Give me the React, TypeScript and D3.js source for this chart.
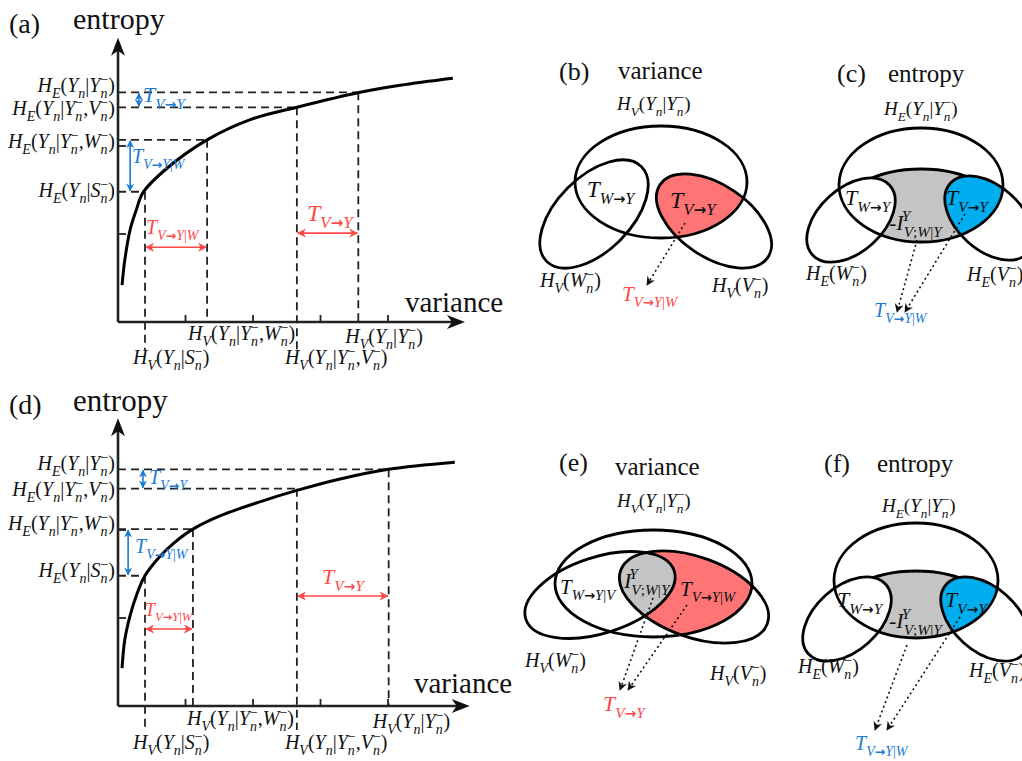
import React from 'react';
import * as d3 from 'd3';

const FONT = "'Liberation Serif','Times New Roman',serif";
const INK = '#111';
const BLUE = '#1b7bd4';
const RED = '#ff4848';
const RED_FILL = '#ff7474';
const BLUE_FILL = '#00aeef';
const GRAY_FILL = '#c4c4c4';

// ---------- data: panel (a) (variance units, entropy units) ----------
const curveAX = [0.06, 0.1, 0.18, 0.27, 0.37, 0.73, 1.32, 1.96, 2.65, 3.59, 4.18, 4.96];
const curveAY = [0.42, 0.7, 1.05, 1.27, 1.47, 1.75, 2.07, 2.3, 2.44, 2.61, 2.69, 2.77];
const markersA = [0.4, 1.32, 2.65, 3.56];
const levelsA = [1.48, 2.07, 2.44, 2.61];

// ---------- data: panel (d) ----------
const curveDX = [0.06, 0.1, 0.18, 0.27, 0.39, 0.62, 0.84, 1.11, 1.51, 2.1, 2.65, 3.29, 4.01, 4.99];
const curveDY = [0.43, 0.75, 1.03, 1.25, 1.47, 1.7, 1.86, 2.01, 2.16, 2.32, 2.45, 2.58, 2.69, 2.77];
const markersD = [0.4, 1.11, 2.65, 4.01];
const levelsD = [1.48, 2.01, 2.47, 2.69];

const xTicks = [1, 2, 3, 4];
const yTicks = [1, 2];

const levelLabels = [
  'H_{E}(Y_{n}|S_{n}^{−})',
  'H_{E}(Y_{n}|Y_{n}^{−},W_{n}^{−})',
  'H_{E}(Y_{n}|Y_{n}^{−},V_{n}^{−})',
  'H_{E}(Y_{n}|Y_{n}^{−})',
];
const markerLabels = [
  'H_{V}(Y_{n}|S_{n}^{−})',
  'H_{V}(Y_{n}|Y_{n}^{−},W_{n}^{−})',
  'H_{V}(Y_{n}|Y_{n}^{−},V_{n}^{−})',
  'H_{V}(Y_{n}|Y_{n}^{−})',
];

// ---------- math text ----------
type Tok = { base?: string; sub?: string; sup?: string };
function parse(s: string): Tok[] {
  const out: Tok[] = [];
  let i = 0;
  let buf = '';
  const readGroup = () => {
    const j = s.indexOf('}', i);
    const g = s.slice(i + 1, j);
    i = j + 1;
    return g;
  };
  while (i < s.length) {
    const c = s[i];
    if (c === '_' || c === '^') {
      if (buf) { out.push({ base: buf }); buf = ''; }
      const t: Tok = {};
      while (i < s.length && (s[i] === '_' || s[i] === '^')) {
        const k = s[i];
        i++;
        const g = readGroup();
        if (k === '_') t.sub = g; else t.sup = g;
      }
      out.push(t);
    } else { buf += c; i++; }
  }
  if (buf) out.push({ base: buf });
  return out;
}
const CW: Record<string, number> = { W: 0.83, V: 0.61, Y: 0.56, '→': 0.75, '|': 0.28, ';': 0.33, n: 0.5, E: 0.61, '−': 0.56, S: 0.5, H: 0.72, T: 0.56, I: 0.33, '(': 0.33, ')': 0.33, ',': 0.25 };
const textW = (str: string, fs: number) => [...str].reduce((a, c) => a + (CW[c] ?? 0.5) * fs, 0);

function M({ x, y, s, size = 20, fill = INK, anchor = 'start' }: { x: number; y: number; s: string; size?: number; fill?: string; anchor?: string }) {
  const toks = parse(s);
  const spans: any[] = [];
  let cur = 0;
  let pendingDx = 0;
  let k = 0;
  const emit = (text: string, fs: number, cls: string, shift: number) => {
    const isArrow = cls === 'b';
    spans.push(
      <tspan key={k++} fontSize={isArrow ? fs * 0.9 : fs} fontStyle={cls === 'i' ? 'italic' : 'normal'}
        fontWeight={isArrow ? 'bold' : 'normal'} fontFamily={isArrow ? "'DejaVu Sans',sans-serif" : undefined}
        dy={shift - cur} dx={pendingDx || undefined}>{text}</tspan>
    );
    cur = shift;
    pendingDx = 0;
  };
  const runs = (str: string, fs: number, shift: number) => {
    let run = '';
    let cls = '';
    const classOf = (c: string) => (/[A-Za-z]/.test(c) ? 'i' : c === '→' ? 'b' : 'n');
    for (const c of [...str]) {
      const cc = classOf(c);
      if (run && cc !== cls) { emit(run, fs, cls, shift); run = ''; }
      cls = cc;
      run += c;
    }
    if (run) emit(run, fs, cls, shift);
  };
  for (const t of toks) {
    if (t.base !== undefined) runs(t.base, size, 0);
    else {
      const ss = size * 0.7;
      if (t.sub !== undefined && t.sup !== undefined) {
        runs(t.sub, ss, size * 0.3);
        const wsub = textW(t.sub, ss);
        const wsup = textW(t.sup, ss);
        pendingDx = -wsub;
        runs(t.sup, ss, -size * 0.42);
        pendingDx = Math.max(0, wsub - wsup);
      } else if (t.sub !== undefined) runs(t.sub, ss, size * 0.3);
      else runs(t.sup as string, ss, -size * 0.42);
    }
  }
  return (
    <text x={x} y={y} fontFamily={FONT} fontSize={size} fill={fill} textAnchor={anchor as any}>{spans}</text>
  );
}

function Plain({ x, y, t, size }: { x: number; y: number; t: string; size: number }) {
  return <text x={x} y={y} fontFamily={FONT} fontSize={size} fill={INK}>{t}</text>;
}

// ---------- left panels ----------
type LeftProps = {
  ox: number; oy: number; xEnd: number; yTop: number;
  cx: number[]; cy: number[]; markers: number[]; levels: number[];
  markerBottoms: (number | null)[];
  labelDx: number[]; labelY: number[]; levelLabelY: number[];
  blueX: [number, number]; redY: [number, number];
  tLabels: { s: string; x: number; y: number; size: number; fill: string }[];
};

function LeftPanel(p: LeftProps) {
  const xs = d3.scaleLinear().domain([0, 1]).range([p.ox, p.ox + 67.5]);
  const ys = d3.scaleLinear().domain([0, 1]).range([p.oy, p.oy - 88]);
  const line = d3.line<number>().x((_, i) => xs(p.cx[i])).y((_, i) => ys(p.cy[i])).curve(d3.curveCatmullRom.alpha(0.5));
  const ax = xs(p.xEnd);
  const ay = ys(p.yTop);
  const dash = '8 5';
  return (
    <g>
      {p.levels.map((lv, i) => (
        <line key={'h' + i} x1={p.ox} x2={xs(p.markers[i])} y1={ys(lv)} y2={ys(lv)} stroke="#222" strokeWidth={1.8} strokeDasharray={dash} />
      ))}
      {p.markers.map((m, i) => (
        <line key={'v' + i} x1={xs(m)} x2={xs(m)} y1={ys(p.levels[i])} y2={p.markerBottoms[i] ?? p.oy} stroke="#222" strokeWidth={1.8} strokeDasharray={dash} />
      ))}
      <line x1={p.ox} x2={p.ox} y1={p.oy} y2={ay + 10} stroke="#222" strokeWidth={2.6} />
      <line x1={p.ox} x2={ax - 10} y1={p.oy} y2={p.oy} stroke="#222" strokeWidth={2.6} />
      <path d={`M${p.ox},${ay} L${p.ox - 7},${ay + 18} L${p.ox},${ay + 13} L${p.ox + 7},${ay + 18} Z`} fill="#111" />
      <path d={`M${ax},${p.oy} L${ax - 18},${p.oy - 7} L${ax - 13},${p.oy} L${ax - 18},${p.oy + 7} Z`} fill="#111" />
      {xTicks.map((t) => (
        <line key={'xt' + t} x1={xs(t)} x2={xs(t)} y1={p.oy} y2={p.oy - 7} stroke="#222" strokeWidth={1.8} />
      ))}
      {yTicks.map((t) => (
        <line key={'yt' + t} x1={p.ox} x2={p.ox + 8} y1={ys(t)} y2={ys(t)} stroke="#222" strokeWidth={1.8} />
      ))}
      <path d={line(p.cx) || ''} fill="none" stroke="#000" strokeWidth={3} />
      <line x1={xs(p.blueX[0])} x2={xs(p.blueX[0])} y1={ys(p.levels[3]) + 1} y2={ys(p.levels[2]) - 1} stroke={BLUE} strokeWidth={1.6} markerStart="url(#mB)" markerEnd="url(#mB)" />
      <line x1={xs(p.blueX[1])} x2={xs(p.blueX[1])} y1={ys(p.levels[1]) + 1} y2={ys(p.levels[0]) - 1} stroke={BLUE} strokeWidth={1.6} markerStart="url(#mB)" markerEnd="url(#mB)" />
      <line x1={xs(p.markers[0]) + 1} x2={xs(p.markers[1]) - 1} y1={ys(p.redY[0])} y2={ys(p.redY[0])} stroke={RED} strokeWidth={1.6} markerStart="url(#mR)" markerEnd="url(#mR)" />
      <line x1={xs(p.markers[2]) + 1} x2={xs(p.markers[3]) - 1} y1={ys(p.redY[1])} y2={ys(p.redY[1])} stroke={RED} strokeWidth={1.6} markerStart="url(#mR)" markerEnd="url(#mR)" />
      {levelLabels.map((s, i) => (
        <M key={'ll' + i} x={p.ox - 3} y={p.levelLabelY[i]} s={s} size={20} anchor="end" />
      ))}
      {markerLabels.map((s, i) => (
        <M key={'ml' + i} x={xs(p.markers[i]) + p.labelDx[i]} y={p.labelY[i]} s={s} size={20} />
      ))}
      {p.tLabels.map((t, i) => (
        <M key={'tl' + i} x={t.x} y={t.y} s={t.s} size={t.size} fill={t.fill} />
      ))}
    </g>
  );
}

// ---------- venn helpers ----------
type Ell = { cx: number; cy: number; rx: number; ry: number; rot: number };
const E = (e: Ell, props: any = {}) => (
  <ellipse cx={e.cx} cy={e.cy} rx={e.rx} ry={e.ry} transform={`rotate(${e.rot} ${e.cx} ${e.cy})`} {...props} />
);
const SW = 2.8;

function Dotted({ x1, y1, x2, y2 }: { x1: number; y1: number; x2: number; y2: number }) {
  return <line x1={x1} y1={y1} x2={x2} y2={y2} stroke="#111" strokeWidth={1.6} strokeDasharray="2 3" markerEnd="url(#mK)" />;
}

function VennVarB() {
  const big: Ell = { cx: 661, cy: 182, rx: 86, ry: 56, rot: 0 };
  const left: Ell = { cx: 594, cy: 214, rx: 67, ry: 37, rot: -45 };
  const right: Ell = { cx: 714, cy: 221, rx: 65, ry: 36, rot: 34 };
  return (
    <g>
      <defs>
        <clipPath id="b-big">{E(big)}</clipPath>
      </defs>
      <g clipPath="url(#b-big)">{E(right, { fill: RED_FILL })}</g>
      {E(big, { fill: 'none', stroke: '#000', strokeWidth: SW })}
      {E(left, { fill: 'none', stroke: '#000', strokeWidth: SW })}
      {E(right, { fill: 'none', stroke: '#000', strokeWidth: SW })}
      <Dotted x1={685} y1={223} x2={647} y2={285} />
      <Plain x={559} y={80} t="(b)" size={26} />
      <Plain x={618} y={79} t="variance" size={25} />
      <M x={617} y={110} s="H_{V}(Y_{n}|Y_{n}^{−})" size={19} />
      <M x={587} y={197} s="T_{W→Y}" size={23} />
      <M x={670} y={208} s="T_{V→Y}" size={24} />
      <M x={540} y={287} s="H_{V}(W_{n}^{−})" size={20} />
      <M x={712} y={292} s="H_{V}(V_{n}^{−})" size={20} />
      <M x={622} y={301} s="T_{V→Y|W}" size={21} fill={RED} />
    </g>
  );
}

function VennEntropy({ id, big, left, right, gray, texts, dots }: { id: string; big: Ell; left: Ell; right: Ell; gray: Ell; texts: any; dots: number[][] }) {
  return (
    <g>
      <defs>
        <clipPath id={id + '-big'}>{E(big)}</clipPath>
        <mask id={id + '-m'} maskUnits="userSpaceOnUse" x={0} y={0} width={1022} height={761}>
          <rect x={0} y={0} width={1022} height={761} fill="#fff" />
          {E(left, { fill: '#000' })}
          {E(right, { fill: '#000' })}
        </mask>
      </defs>
      <g clipPath={`url(#${id}-big)`}>
        <g mask={`url(#${id}-m)`}>{E(gray, { fill: GRAY_FILL, stroke: '#000', strokeWidth: SW })}</g>
        {E(right, { fill: BLUE_FILL })}
      </g>
      {E(big, { fill: 'none', stroke: '#000', strokeWidth: SW })}
      {E(left, { fill: 'none', stroke: '#000', strokeWidth: SW })}
      {E(right, { fill: 'none', stroke: '#000', strokeWidth: SW })}
      {dots.map((d, i) => <Dotted key={i} x1={d[0]} y1={d[1]} x2={d[2]} y2={d[3]} />)}
      {texts}
    </g>
  );
}

function VennVarE() {
  const big: Ell = { cx: 653.5, cy: 583.5, rx: 98.5, ry: 53.5, rot: 0 };
  const left: Ell = { cx: 600, cy: 595, rx: 78, ry: 38, rot: -18 };
  const right: Ell = { cx: 694, cy: 597, rx: 78, ry: 40, rot: 20 };
  return (
    <g>
      <defs>
        <clipPath id="e-big">{E(big)}</clipPath>
        <clipPath id="e-left">{E(left)}</clipPath>
        <mask id="e-m" maskUnits="userSpaceOnUse" x={0} y={0} width={1022} height={761}>
          <rect x={0} y={0} width={1022} height={761} fill="#fff" />
          {E(left, { fill: '#000' })}
        </mask>
      </defs>
      <g clipPath="url(#e-big)">
        <g mask="url(#e-m)">{E(right, { fill: RED_FILL })}</g>
        <g clipPath="url(#e-left)">{E(right, { fill: GRAY_FILL })}</g>
      </g>
      {E(big, { fill: 'none', stroke: '#000', strokeWidth: SW })}
      {E(left, { fill: 'none', stroke: '#000', strokeWidth: SW })}
      {E(right, { fill: 'none', stroke: '#000', strokeWidth: SW })}
      <Dotted x1={653} y1={598} x2={620} y2={690} />
      <Dotted x1={687} y1={605} x2={628} y2={690} />
      <Plain x={559} y={471} t="(e)" size={26} />
      <Plain x={615} y={475} t="variance" size={25} />
      <M x={617} y={507} s="H_{V}(Y_{n}|Y_{n}^{−})" size={19} />
      <M x={560} y={594} s="T_{W→Y|V}" size={21} />
      <M x={624} y={588} s="I^{Y}_{V;W|Y}" size={22} />
      <M x={680} y={596} s="T_{V→Y|W}" size={21} />
      <M x={525} y={667} s="H_{V}(W_{n}^{−})" size={20} />
      <M x={710} y={680} s="H_{V}(V_{n}^{−})" size={20} />
      <M x={603} y={711} s="T_{V→Y}" size={22} fill={RED} />
    </g>
  );
}

export default function App() {
  return (
    <svg width={1022} height={761} viewBox="0 0 1022 761" style={{ position: 'absolute', left: 0, top: 0, background: '#fff' }}>
      <defs>
        <marker id="mB" viewBox="0 0 10 10" refX={9} refY={5} markerWidth={8} markerHeight={8} markerUnits="userSpaceOnUse" orient="auto-start-reverse">
          <path d="M0,0 L10,5 L0,10 L3,5 Z" fill={BLUE} />
        </marker>
        <marker id="mR" viewBox="0 0 10 10" refX={9} refY={5} markerWidth={9} markerHeight={9} markerUnits="userSpaceOnUse" orient="auto-start-reverse">
          <path d="M0,0 L10,5 L0,10 L3,5 Z" fill={RED} />
        </marker>
        <marker id="mK" viewBox="0 0 10 10" refX={9} refY={5} markerWidth={9} markerHeight={9} markerUnits="userSpaceOnUse" orient="auto">
          <path d="M0,0 L10,5 L0,10 L3,5 Z" fill="#111" />
        </marker>
      </defs>
      <rect x={0} y={0} width={1022} height={761} fill="#fff" />

      {/* (a) */}
      <Plain x={9} y={33} t="(a)" size={28} />
      <Plain x={73} y={29} t="entropy" size={30} />
      <Plain x={405} y={312} t="variance" size={29} />
      <LeftPanel
        ox={118} oy={322} xEnd={5.14} yTop={3.23}
        cx={curveAX} cy={curveAY} markers={markersA} levels={levelsA}
        markerBottoms={[350, null, 350, null]}
        labelDx={[-12, -19, -12, -13]} labelY={[364, 340, 364, 343]} levelLabelY={[197, 148, 115, 92]}
        blueX={[0.31, 0.18]} redY={[0.85, 1.01]}
        tLabels={[
          { s: 'T_{V→Y}', x: 143, y: 102, size: 22, fill: BLUE },
          { s: 'T_{V→Y|W}', x: 132, y: 163, size: 20, fill: BLUE },
          { s: 'T_{V→Y|W}', x: 146, y: 234, size: 20, fill: RED },
          { s: 'T_{V→Y}', x: 307, y: 221, size: 24, fill: RED },
        ]}
      />

      {/* (d) */}
      <Plain x={9} y={414} t="(d)" size={28} />
      <Plain x={73} y={411} t="entropy" size={31} />
      <Plain x={414} y={693} t="variance" size={29} />
      <LeftPanel
        ox={118} oy={706} xEnd={5.21} yTop={3.27}
        cx={curveDX} cy={curveDY} markers={markersD} levels={levelsD}
        markerBottoms={[730, null, 730, null]}
        labelDx={[-12, -6, -12, -16]} labelY={[749, 725, 749, 728]} levelLabelY={[577, 530, 496, 470]}
        blueX={[0.37, 0.15]} redY={[0.875, 1.25]}
        tLabels={[
          { s: 'T_{V→Y}', x: 149, y: 484, size: 20, fill: BLUE },
          { s: 'T_{V→Y|W}', x: 135, y: 553, size: 20, fill: BLUE },
          { s: 'T_{V→Y|W}', x: 145, y: 616, size: 18, fill: RED },
          { s: 'T_{V→Y}', x: 322, y: 584, size: 22, fill: RED },
        ]}
      />

      <VennVarB />
      <VennEntropy
        id="c"
        big={{ cx: 921, cy: 185, rx: 82, ry: 57, rot: 0 }}
        left={{ cx: 851, cy: 220, rx: 52, ry: 32, rot: -42 }}
        right={{ cx: 989, cy: 218, rx: 52, ry: 32, rot: 42 }}
        gray={{ cx: 921, cy: 215, rx: 82, ry: 46, rot: 0 }}
        dots={[[917, 240, 897, 312], [965, 214, 905, 312]]}
        texts={<>
          <Plain x={837} y={82} t="(c)" size={26} />
          <Plain x={888} y={82} t="entropy" size={25} />
          <M x={884} y={115} s="H_{E}(Y_{n}|Y_{n}^{−})" size={19} />
          <M x={845} y={205} s="T_{W→Y}" size={22} />
          <M x={946} y={205} s="T_{V→Y}" size={22} />
          <M x={889} y={230} s="-I^{Y}_{V;W|Y}" size={22} />
          <M x={806} y={280} s="H_{E}(W_{n}^{−})" size={20} />
          <M x={967} y={281} s="H_{E}(V_{n}^{−})" size={20} />
          <M x={874} y={317} s="T_{V→Y|W}" size={20} fill={BLUE} />
        </>}
      />
      <VennVarE />
      <VennEntropy
        id="f"
        big={{ cx: 916, cy: 580.5, rx: 82, ry: 57.5, rot: 0 }}
        left={{ cx: 847, cy: 619, rx: 52, ry: 32, rot: -42 }}
        right={{ cx: 985, cy: 619, rx: 52, ry: 32, rot: 42 }}
        gray={{ cx: 916, cy: 617, rx: 82, ry: 46, rot: 0 }}
        dots={[[907, 645, 875, 730], [960, 617, 887, 730]]}
        texts={<>
          <Plain x={824} y={472} t="(f)" size={26} />
          <Plain x={877} y={472} t="entropy" size={25} />
          <M x={882} y={512} s="H_{E}(Y_{n}|Y_{n}^{−})" size={19} />
          <M x={837} y={607} s="T_{W→Y}" size={22} />
          <M x={945} y={607} s="T_{V→Y}" size={22} />
          <M x={889} y={628} s="-I^{Y}_{V;W|Y}" size={22} />
          <M x={798} y={673} s="H_{E}(W_{n}^{−})" size={20} />
          <M x={969} y={677} s="H_{E}(V_{n}^{−})" size={20} />
          <M x={855} y={750} s="T_{V→Y|W}" size={20} fill={BLUE} />
        </>}
      />
    </svg>
  );
}
